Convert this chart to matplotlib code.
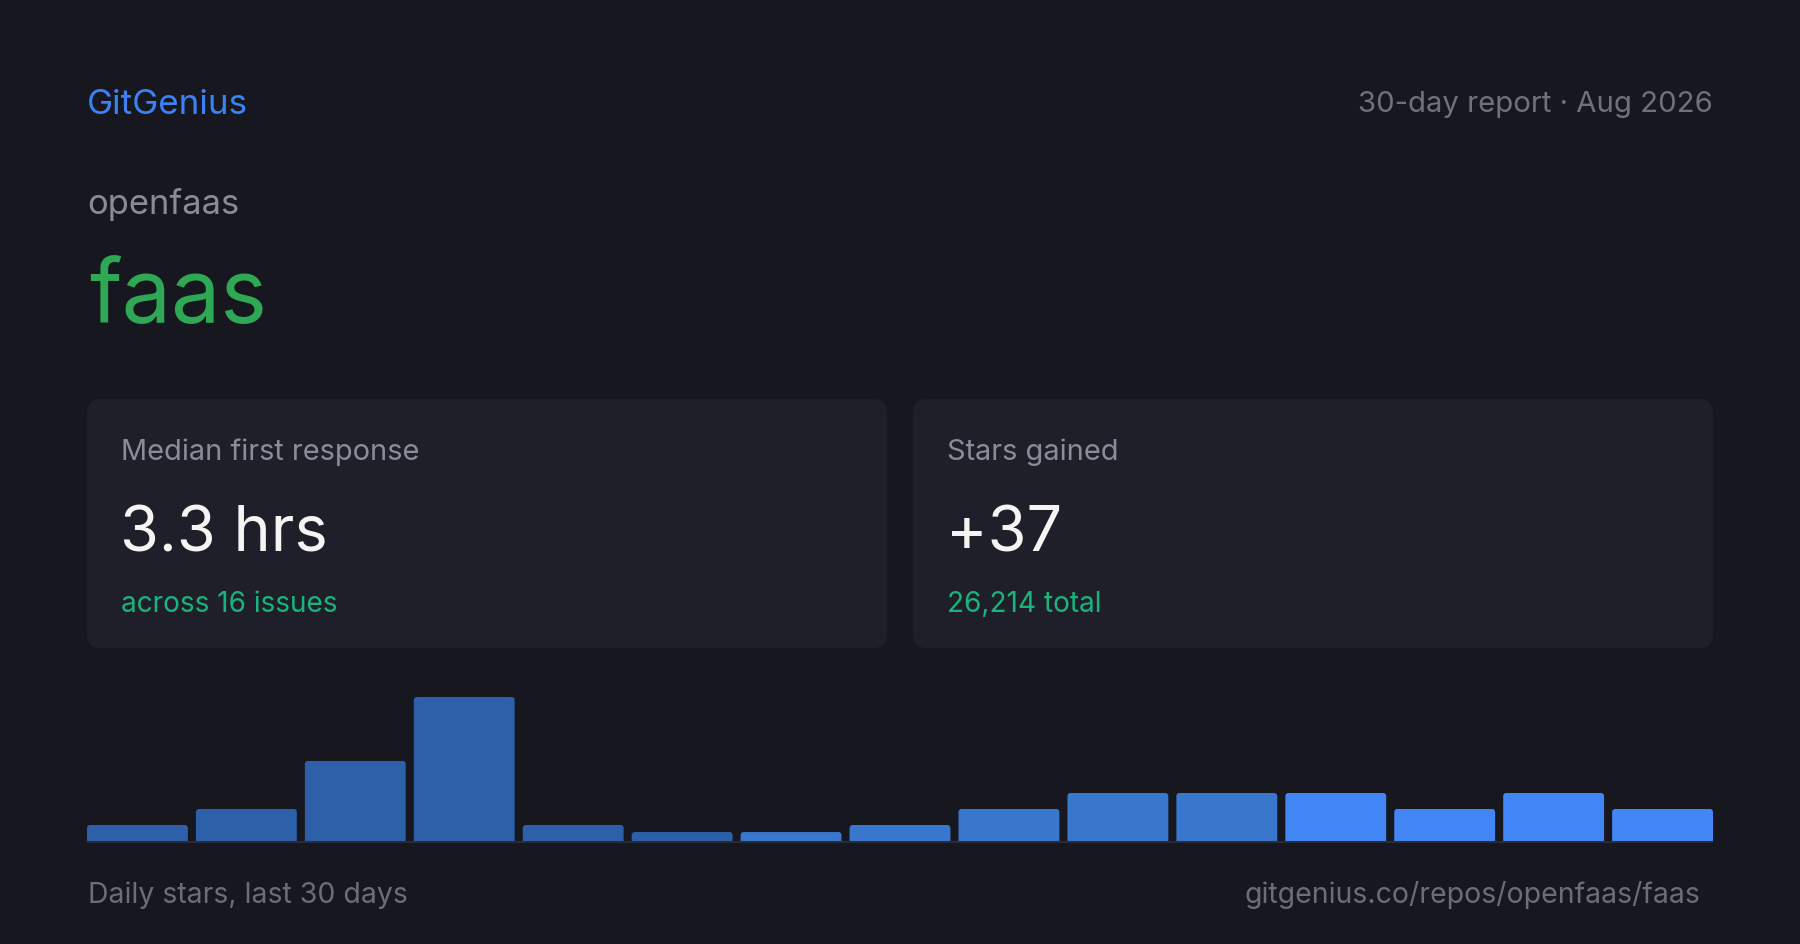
import numpy as np
import matplotlib
matplotlib.use("Agg")
import matplotlib.pyplot as plt
from matplotlib.patches import FancyBboxPatch, Rectangle

plt.rcParams['font.family'] = ['Inter', 'DejaVu Sans']

brand = "GitGenius"
report_label = "30-day report · Aug 2026"
owner = "openfaas"
repo = "faas"
card_titles = ["Median first response", "Stars gained"]
card_values = ["3.3 hrs", "+37"]
card_notes = ["across 16 issues", "26,214 total"]
daily_stars = [1, 2, 5, 9, 1, 0, 0, 1, 2, 3, 3, 3, 2, 3, 2]
footer_left = "Daily stars, last 30 days"
footer_right = "gitgenius.co/repos/openfaas/faas"

W, H = 1800, 945
BG = "#16171f"
CARD = "#1f1f2a"

def pt(px):
    return px * 72 / 100

fig = plt.figure(figsize=(W / 100, H / 100), dpi=100)
fig.patch.set_facecolor(BG)
page = fig.add_axes([0, 0, 1, 1])
page.set_xlim(0, W)
page.set_ylim(H, 0)
page.axis('off')
page.set_facecolor(BG)

# header
page.text(87, 114, brand, color="#3b82f6", fontsize=pt(35), va='baseline', ha='left')
page.text(1713, 112, report_label, color="#6f717c", fontsize=pt(29.3), va='baseline', ha='right')
page.text(87, 214, owner, color="#8a8b96", fontsize=pt(34.5), va='baseline', ha='left')
page.text(89, 322, repo, color="#2fa855", fontsize=pt(88), va='baseline', ha='left')

# stat cards
card_x = [87, 913]
for i in range(2):
    x0 = card_x[i]
    page.add_patch(FancyBboxPatch((x0, 400), 800, 249,
                                  boxstyle="round,pad=0,rounding_size=14",
                                  facecolor=CARD, edgecolor='none'))
    page.text(x0 + 34, 460, card_titles[i], color="#8b8c98", fontsize=pt(29), va='baseline')
    page.text(x0 + 33, 551, card_values[i], color="#f4f4f2", fontsize=pt(63), va='baseline')
    page.text(x0 + 34, 612, card_notes[i], color="#19b37d", fontsize=pt(28), va='baseline')

# baseline under the bars
page.add_patch(Rectangle((87, 842), 1626, 2, facecolor="#2a2b36", edgecolor='none'))

# footer
page.text(88, 903, footer_left, color="#6b6d78", fontsize=pt(28.4), va='baseline', ha='left')
page.text(1700, 903, footer_right, color="#6b6d78", fontsize=pt(28.4), va='baseline', ha='right')

# bar chart: bottom at y=842px, 9 stars = 144px
bw = 0.926
n = len(daily_stars)
ax = fig.add_axes([87 / W, (H - 842) / H, 1626 / W, 144 / H])
ax.set_facecolor('none')
ax.set_xlim(-bw / 2, n - 1 + bw / 2)
ax.set_ylim(0, 9)
ax.axis('off')

bar_colors = ["#2e5fa9"] * 6 + ["#3877cc"] * 5 + ["#4285f4"] * 4
heights = np.maximum(np.array(daily_stars, dtype=float), 0.56)
bars = ax.bar(np.arange(n), heights, width=bw, color=bar_colors, edgecolor='none')

# swap the square bars for ones with slightly rounded tops
x_per_px = (n - 1 + bw) / 1626
y_per_px = 9 / 144
aspect = y_per_px / x_per_px
r = 3 * x_per_px
for b in bars:
    x, w, h = b.get_x(), b.get_width(), b.get_height()
    ax.add_patch(FancyBboxPatch((x, -4 * y_per_px), w, h + 4 * y_per_px,
                                boxstyle=f"round,pad=0,rounding_size={r}",
                                mutation_aspect=aspect,
                                facecolor=b.get_facecolor(), edgecolor='none'))
    b.set_visible(False)

fig.savefig("out.png", dpi=100, facecolor=BG)
